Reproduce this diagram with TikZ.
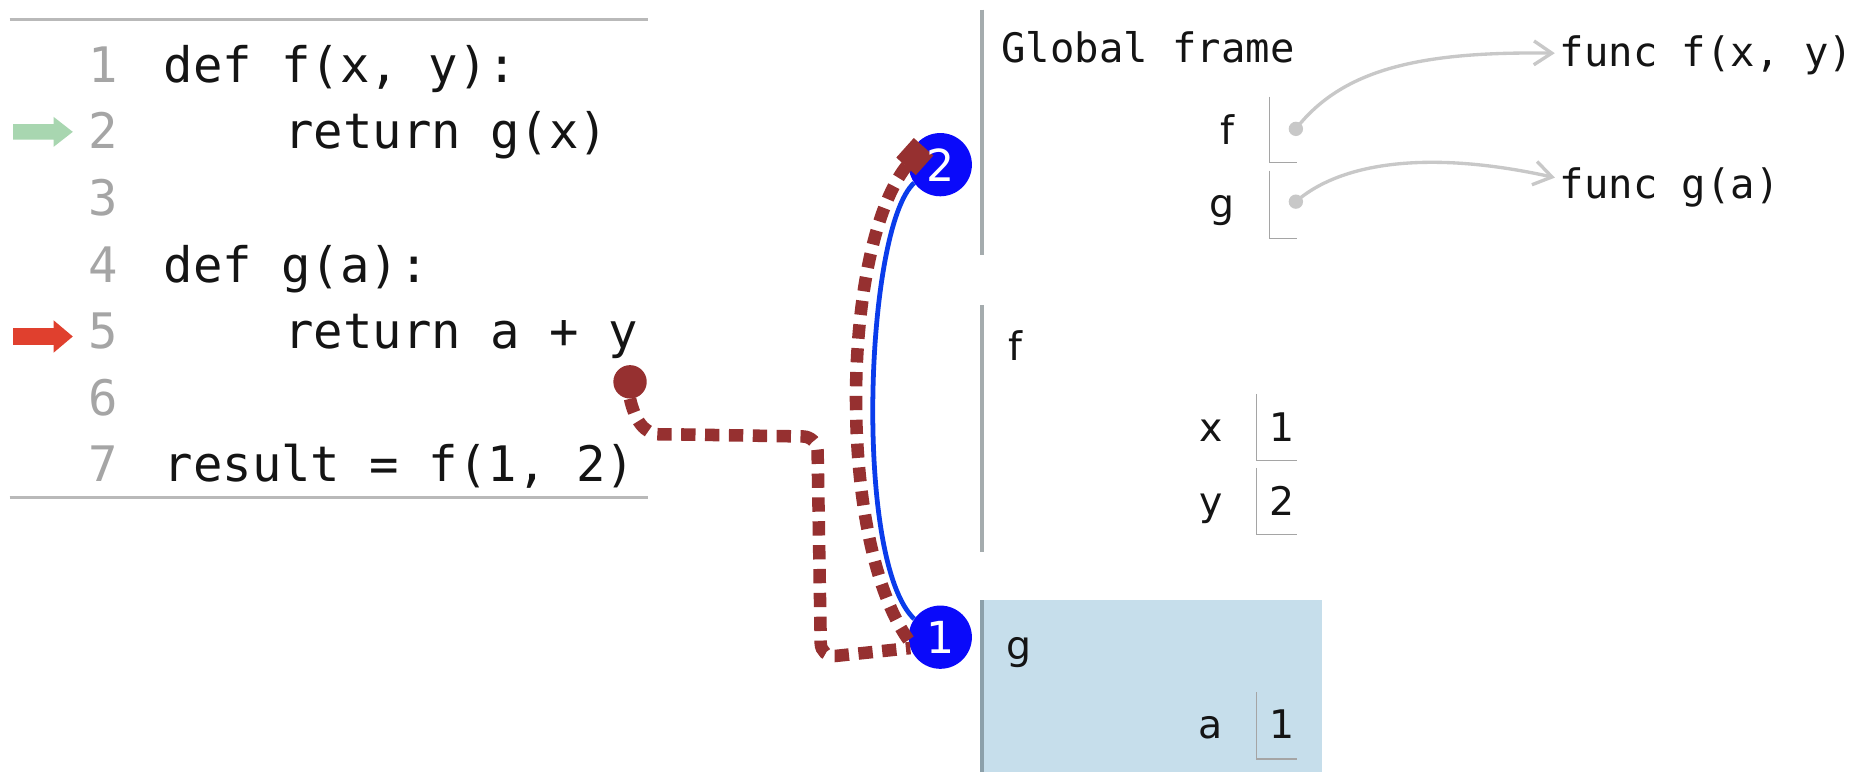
\documentclass[tikz,border=0pt]{standalone}
\usepackage{fontspec}
\setmonofont{DejaVu Sans Mono}
\setsansfont{DejaVu Sans}
\usetikzlibrary{arrows.meta,calc}
\definecolor{maroonc}{RGB}{150,48,48}
\definecolor{bluedot}{RGB}{10,10,250}
\definecolor{blueline}{RGB}{10,60,235}
\definecolor{rulegray}{RGB}{185,185,185}
\definecolor{bargray}{RGB}{165,172,174}
\definecolor{numgray}{RGB}{165,165,165}
\definecolor{ptrgray}{RGB}{200,200,200}
\definecolor{gframe}{RGB}{198,222,235}
\definecolor{gbar}{RGB}{140,160,170}
\definecolor{greenarrow}{RGB}{168,214,176}
\definecolor{redarrow}{RGB}{224,64,46}
\definecolor{codeblack}{RGB}{20,20,20}
\tikzset{
  code/.style={anchor=base west, inner sep=0pt, font=\fontsize{41}{41}\selectfont\ttfamily, text=codeblack},
  lnum/.style={anchor=base east, inner sep=0pt, font=\fontsize{41}{41}\selectfont\ttfamily, text=numgray},
  frametxt/.style={anchor=base west, inner sep=0pt, font=\fontsize{34}{34}\selectfont\ttfamily, text=codeblack},
  varname/.style={anchor=base east, inner sep=0pt, font=\fontsize{33}{33}\selectfont\sffamily, text=codeblack},
  varval/.style={anchor=base west, inner sep=0pt, font=\fontsize{33}{33}\selectfont\sffamily, text=codeblack},
  coderule/.style={rulegray, line width=2.5pt},
  framebar/.style={bargray, line width=4pt},
  boxline/.style={draw=numgray, line width=1.3pt},
  ptrdot/.style={circle, fill=ptrgray, inner sep=0pt, minimum size=12pt},
  ptrarrow/.style={ptrgray, line width=2.8pt, -{Straight Barb[length=15pt,width=20pt,line width=2.8pt]}, shorten >=4pt},
  stepcircle/.style={circle, fill=bluedot, inner sep=0pt, minimum size=53pt},
  steplabel/.style={text=white, inner sep=0pt, font=\fontsize{37}{37}\selectfont\sffamily},
  maroonpath/.style={maroonc, line width=10.5pt, dash pattern=on 12pt off 8pt},
  maroondot/.style={circle, fill=maroonc, inner sep=0pt, minimum size=28pt},
  bluepath/.style={blueline, line width=4pt},
}
\begin{document}
\begin{tikzpicture}[x=1pt, y=-1pt]
\useasboundingbox (0,0) rectangle (1568,647);
\fill[white] (0,0) rectangle (1568,647);

% code panel
\draw[coderule] (8,16) -- (543,16);
\draw[coderule] (8,417) -- (543,417);
\node[lnum] (n1) at (99,69) {1};
\node[lnum] (n2) at (99,124.8) {2};
\node[lnum] (n3) at (99,180.6) {3};
\node[lnum] (n4) at (99,236.4) {4};
\node[lnum] (n5) at (99,292.2) {5};
\node[lnum] (n6) at (99,348) {6};
\node[lnum] (n7) at (99,403.8) {7};
\node[code] (l1) at (137,69) {def f(x, y):};
\node[code] (l2) at (238,124.8) {return g(x)};
\node[code] (l4) at (137,236.4) {def g(a):};
\node[code] (l5) at (238,292.2) {return a + y};
\node[code] (l7) at (137,403.8) {result = f(1, 2)};
\fill[greenarrow] (11,104)--(45,104)--(45,98)--(61,110.5)--(45,123)--(45,117)--(11,117)--cycle;
\fill[redarrow] (11,275)--(45,275)--(45,268.5)--(61,282)--(45,295.5)--(45,289)--(11,289)--cycle;

% global frame
\draw[framebar] (823,8) -- (823,214);
\node[frametxt] (gtitle) at (839,52) {Global frame};
\node[varname] (gf) at (1035,121) {f};
\node[varname] (gg) at (1035,182) {g};
\draw[boxline] (1064,81) -- (1064,136) -- (1087,136);
\draw[boxline] (1064,143) -- (1064,200) -- (1087,200);
\node[ptrdot] (fdot) at (1086,108) {};
\node[ptrdot] (gdot) at (1086,169) {};
\node[frametxt] (funcf) at (1307,56) {func f(x, y)};
\node[frametxt] (funcg) at (1307,166) {func g(a)};
\draw[ptrarrow] (fdot.center) .. controls (1125,58) and (1190,43) .. ([yshift=2pt]funcf.west);
\draw[ptrarrow] (gdot.center) .. controls (1125,135) and (1200,126) .. ([yshift=7pt]funcg.west);

% f frame
\draw[framebar] (823,256) -- (823,463);
\node[varval] (ftitle) at (845,301.7) {f};
\node[varname] (fx) at (1025,370) {x};
\node[varval] (fxv) at (1064,370) {1};
\draw[boxline] (1053,330) -- (1053,386) -- (1087,386);
\node[varname] (fy) at (1025,431.6) {y};
\node[varval] (fyv) at (1064,431.6) {2};
\draw[boxline] (1053,392) -- (1053,448) -- (1087,448);

% g frame
\fill[gframe] (821,503) rectangle (1108,647);
\draw[gbar, line width=4pt] (823,503) -- (823,647);
\node[varval] (gtitle2) at (843,553) {g};
\node[varname] (ga) at (1025,618.6) {a};
\node[varval] (gav) at (1064,618.6) {1};
\draw[boxline] (1053,580) -- (1053,636) -- (1087,636);

% step circles
\node[stepcircle] (c2) at (788,138) {};
\node[stepcircle] (c1) at (788,534) {};
\draw[bluepath] (c2.215) .. controls (725,190) and (715,470) .. (c1.145);

% maroon paths
\node[maroondot] (ydot) at (528,320) {};
\draw[maroonpath, rounded corners=12pt] (ydot.south) .. controls (532,352) and (540,364) .. (565,364) -- (685,366) -- (688,551) -- (c1.200);
\draw[maroonpath, -{Square[length=22pt,width=22pt]}] (c1.185) .. controls (700,450) and (705,200) .. ($(c2)+(-14,-15)$);

% circle labels on top
\node[steplabel] (c2t) at (c2.center) {2};
\node[steplabel] (c1t) at (c1.center) {1};
\end{tikzpicture}
\end{document}
